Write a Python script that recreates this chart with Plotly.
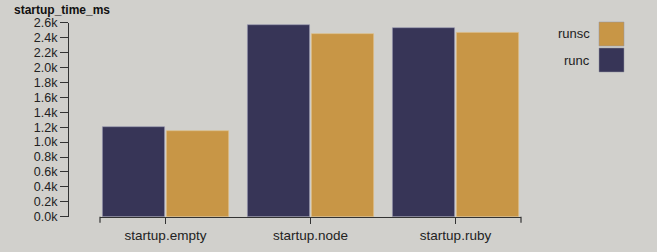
import plotly.graph_objects as go

categories = ["startup.empty", "startup.node", "startup.ruby"]
runc_values = [1206, 2573, 2533]
runsc_values = [1152, 2453, 2470]
y_tickvals = [0, 200, 400, 600, 800, 1000, 1200, 1400, 1600, 1800, 2000, 2200, 2400, 2600]
y_ticktext = ["0.0k", "0.2k", "0.4k", "0.6k", "0.8k", "1.0k", "1.2k", "1.4k", "1.6k",
              "1.8k", "2.0k", "2.2k", "2.4k", "2.6k"]
series_names = ["runc", "runsc"]

W, H = 657, 252
BG = "#d1d0cc"
C_RUNC = "#373557"
C_RUNSC = "#c89646"
FONT = "Liberation Sans, Arial, Helvetica, sans-serif"

def px_x(x):
    return x / W

def px_y(y):
    return 1 - y / H

fig = go.Figure()
fig.add_trace(go.Bar(x=categories, y=runc_values, name=series_names[0],
                     marker=dict(color=C_RUNC, line=dict(color="rgba(150,150,175,0.6)", width=1))))
fig.add_trace(go.Bar(x=categories, y=runsc_values, name=series_names[1],
                     marker=dict(color=C_RUNSC, line=dict(color="rgba(225,190,130,0.6)", width=1))))

x_left, x_right = 100, 521
y_top, y_bot = 22.7, 216.7

fig.update_layout(
    width=W, height=H,
    margin=dict(l=0, r=0, t=0, b=0, autoexpand=False),
    paper_bgcolor=BG, plot_bgcolor=BG,
    showlegend=False,
    barmode="group",
    bargap=0.117,
    bargroupgap=0.03,
    font=dict(family=FONT, size=12, color="#222222"),
    xaxis=dict(
        domain=[px_x(x_left), px_x(x_right)],
        range=[(x_left - 165.5) / 145, (x_right - 165.5) / 145],
        showline=True, linecolor="#333333", linewidth=1.2,
        ticks="outside", ticklen=6, tickcolor="#333333", tickwidth=1.2,
        showgrid=False, zeroline=False, automargin=False,
        tickfont=dict(size=13.5, color="#222222", family=FONT),
        anchor="y",
    ),
    yaxis=dict(
        domain=[px_y(y_bot), px_y(y_top)],
        range=[0, 2600],
        anchor="free", position=px_x(68),
        showline=True, linecolor="#333333", linewidth=1.2,
        ticks="outside", ticklen=8, tickcolor="#333333", tickwidth=1.2,
        tickvals=y_tickvals, ticktext=y_ticktext,
        showgrid=False, zeroline=False, automargin=False,
        tickfont=dict(size=12.5, color="#222222", family=FONT),
    ),
)

# outer end ticks of the x axis
for xp in (x_left, x_right):
    fig.add_shape(type="line", xref="paper", yref="paper",
                  x0=px_x(xp), x1=px_x(xp), y0=px_y(y_bot), y1=px_y(y_bot + 6),
                  line=dict(color="#333333", width=1.2))

# title
fig.add_annotation(text="<b>startup_time_ms</b>", xref="paper", yref="paper",
                   x=px_x(12), y=px_y(10), xanchor="left", yanchor="middle",
                   showarrow=False, font=dict(size=12, color="#111111", family=FONT))

# legend
legend_items = [(series_names[1], C_RUNSC, 22), (series_names[0], C_RUNC, 48)]
for name, col, top in legend_items:
    fig.add_shape(type="rect", xref="paper", yref="paper",
                  x0=px_x(599), x1=px_x(624), y0=px_y(top), y1=px_y(top + 24),
                  fillcolor=col, line=dict(color="rgba(150,150,160,0.5)", width=1))
    fig.add_annotation(text=name, xref="paper", yref="paper",
                       x=px_x(592), y=px_y(top + 12), xanchor="right", yanchor="middle",
                       showarrow=False, font=dict(size=13, color="#222222", family=FONT))

fig.write_html("out.html")
